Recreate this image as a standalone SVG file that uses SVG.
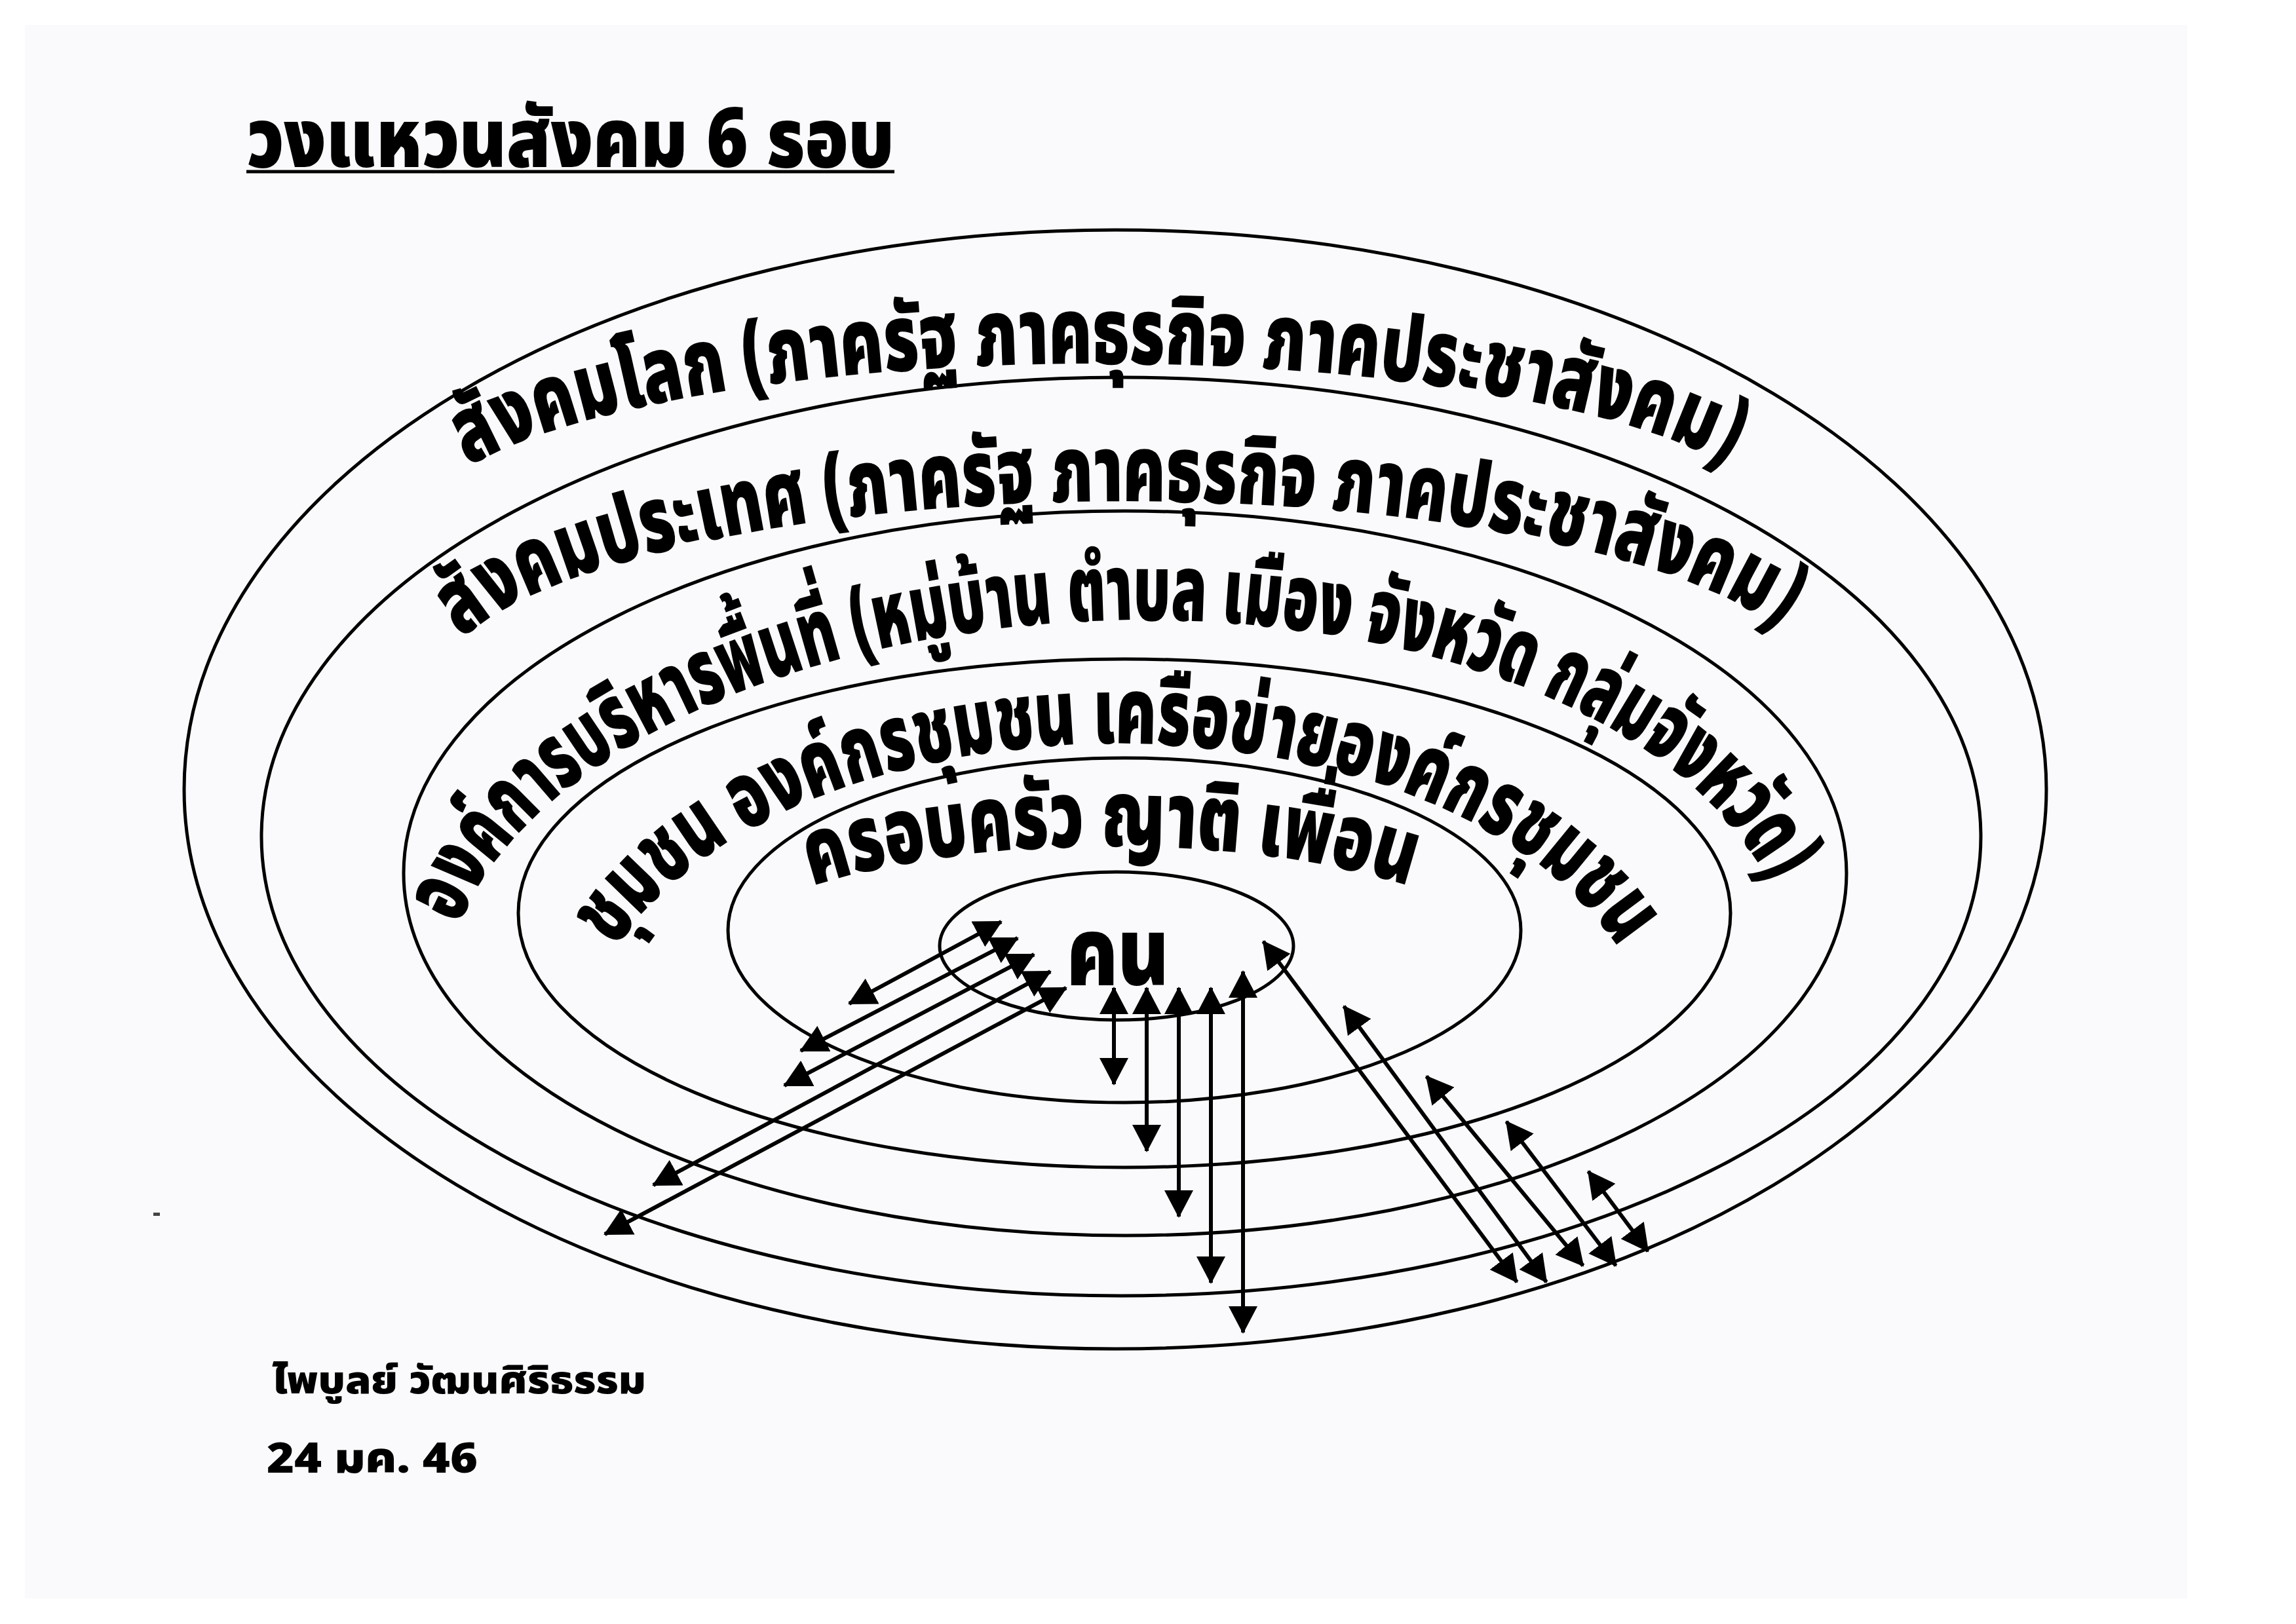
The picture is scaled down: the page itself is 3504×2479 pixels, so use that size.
<svg xmlns="http://www.w3.org/2000/svg" width="3504" height="2479" viewBox="0 0 3504 2479">
<style>
.ring{fill:none;stroke:#000;stroke-width:5}
.th{font-family:"Noto Sans Thai","Noto Sans","DejaVu Sans",sans-serif;font-weight:900;fill:#000}
.ring-label{font-size:142px}
.arrow{stroke:#000;stroke-width:6;fill:none;marker-start:url(#head);marker-end:url(#head)}
</style>
<defs>
<marker id="head" markerUnits="userSpaceOnUse" markerWidth="42" markerHeight="44" refX="40" refY="22" orient="auto-start-reverse" viewBox="0 0 42 44">
<path d="M0,0 L42,22 L0,44 Z" fill="#000"/>
</marker>
<path id="p1" d="M715,712 A1050,261.5 0 0 1 2640,712 L2727,762"/>
<path id="p2" d="M705,975 A1065,302 0 0 1 2715,960 L2793,1023"/>
<path id="p3" d="M700,1412 A1030,569 -1.8 0 1 2700,1350 L2744,1440"/>
<path id="p4" d="M940,1448 A815,478 0 0 1 2470,1448 L2523,1533"/>
<path id="p5" d="M1240,1353 A600,175 0 0 1 2151,1353 L2246,1385"/>
</defs>
<rect x="0" y="0" width="3504" height="2479" fill="#ffffff"/>
<rect x="38" y="38" width="3300" height="2402" fill="#fafafc"/>
<rect x="234" y="1851" width="10" height="5" fill="#444"/>

<g id="title">
<text class="th" x="376" y="255" font-size="126" textLength="989" lengthAdjust="spacingAndGlyphs">วงแหวนสังคม 6 รอบ</text>
<line x1="376" y1="262" x2="1365" y2="262" stroke="#000" stroke-width="5"/>
</g>

<g id="ring-world">
<ellipse class="ring" cx="1702" cy="1205" rx="1421" ry="854"/>
<text class="th ring-label"><textPath href="#p1" textLength="1962" lengthAdjust="spacingAndGlyphs">สังคมโลก (ภาครัฐ ภาคธุรกิจ ภาคประชาสังคม)</textPath></text>
</g>

<g id="ring-country">
<ellipse class="ring" cx="1711" cy="1277" rx="1312" ry="701"/>
<text class="th ring-label"><textPath href="#p2" textLength="2078" lengthAdjust="spacingAndGlyphs">สังคมประเทศ (ภาครัฐ ภาคธุรกิจ ภาคประชาสังคม)</textPath></text>
</g>

<g id="ring-area">
<ellipse class="ring" cx="1717" cy="1333" rx="1101" ry="553"/>
<text class="th ring-label"><textPath href="#p3" textLength="2284" lengthAdjust="spacingAndGlyphs">องค์การบริหารพื้นที่ (หมู่บ้าน ตำบล เมือง จังหวัด กลุ่มจังหวัด)</textPath></text>
</g>

<g id="ring-community">
<ellipse class="ring" cx="1716" cy="1394" rx="925" ry="388"/>
<text class="th ring-label"><textPath href="#p4" textLength="1716" lengthAdjust="spacingAndGlyphs">ชุมชน องค์กรชุมชน เครือข่ายองค์กรชุมชน</textPath></text>
</g>

<g id="ring-family">
<ellipse class="ring" cx="1716" cy="1420" rx="605" ry="263"/>
<text class="th ring-label"><textPath href="#p5" textLength="922" lengthAdjust="spacingAndGlyphs">ครอบครัว ญาติ เพื่อน</textPath></text>
</g>

<g id="ring-person">
<ellipse class="ring" cx="1704" cy="1444" rx="270" ry="113"/>
<text class="th" x="1628" y="1504" font-size="145" textLength="156" lengthAdjust="spacingAndGlyphs">คน</text>
</g>

<g id="connectors">
<line class="arrow" x1="1296" y1="1532" x2="1528" y2="1407"/>
<line class="arrow" x1="1222" y1="1604" x2="1553" y2="1432"/>
<line class="arrow" x1="1197" y1="1657" x2="1578" y2="1457"/>
<line class="arrow" x1="997" y1="1809" x2="1603" y2="1483"/>
<line class="arrow" x1="923" y1="1884" x2="1627" y2="1508"/>
<line class="arrow" x1="1700" y1="1508" x2="1700" y2="1655"/>
<line class="arrow" x1="1750" y1="1508" x2="1750" y2="1757"/>
<line class="arrow" x1="1799" y1="1508" x2="1799" y2="1857"/>
<line class="arrow" x1="1848" y1="1508" x2="1848" y2="1958"/>
<line class="arrow" x1="1897" y1="1483" x2="1897" y2="2034"/>
<line class="arrow" x1="1928" y1="1437" x2="2315" y2="1957"/>
<line class="arrow" x1="2051" y1="1536" x2="2360" y2="1957"/>
<line class="arrow" x1="2177" y1="1643" x2="2416" y2="1932"/>
<line class="arrow" x1="2299" y1="1712" x2="2466" y2="1932"/>
<line class="arrow" x1="2424" y1="1788" x2="2515" y2="1910"/>
</g>

<g id="author">
<text class="th" x="415" y="2127" font-size="58" textLength="571" lengthAdjust="spacingAndGlyphs">ไพบูลย์ วัฒนศิริธรรม</text>
<text class="th" x="407" y="2248" font-size="63" textLength="322" lengthAdjust="spacingAndGlyphs">24 มค. 46</text>
</g>
</svg>
